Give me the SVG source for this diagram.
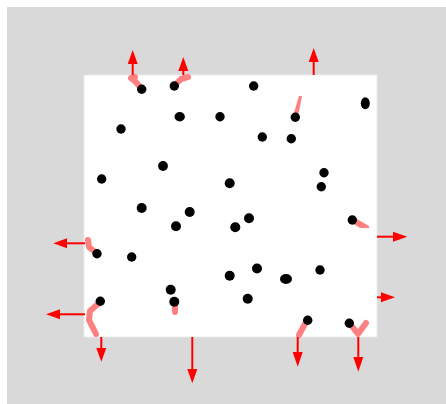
<svg xmlns="http://www.w3.org/2000/svg" width="446" height="404" viewBox="0 0 446 404">
<style>
.dot{fill:#000}
.trail{fill:none;stroke:#ff8080;stroke-width:6;stroke-linecap:round;stroke-linejoin:round}
.trailf{fill:#ff8080}
.shaft{stroke:#f00;stroke-width:2;fill:none}
.head{fill:#f00}
</style>
<rect x="0" y="0" width="446" height="404" fill="#fff"/>
<rect id="bg" x="7" y="7" width="439" height="397" fill="#d9d9d9"/>
<rect id="box" x="84" y="75" width="293" height="262" fill="#fff" stroke="#ececec" stroke-width="1"/>
<g id="trails">
<polyline class="trail" points="140,87 135,81 131,78 135,77"/>
<polyline class="trail" points="176,84 181,79 188,77"/>
<polygon class="trailf" points="293,116 298,117 302,96 299,96"/>
<polyline class="trail" points="88,240 89,247 95,252"/>
<polyline class="trail" points="99,303 90,311 89,320 96,334"/>
<polyline class="trail" points="175,303 175,312"/>
<polyline class="trail" points="306,322 299,335"/>
<polyline class="trail" points="351,325 358,334 366,323"/>
<polygon class="trailf" points="352,223 357,219 369,226 369,228 360,228"/>
</g>
<g id="dots">
<circle class="dot" cx="141.7" cy="89.3" r="4.7"/>
<circle class="dot" cx="174.3" cy="86" r="4.7"/>
<circle class="dot" cx="253.7" cy="86" r="4.7"/>
<ellipse class="dot" cx="365.3" cy="103.3" rx="4.5" ry="6"/>
<ellipse class="dot" cx="179.7" cy="116.7" rx="5.2" ry="4.7"/>
<circle class="dot" cx="220" cy="116.7" r="4.7"/>
<circle class="dot" cx="295.3" cy="117.3" r="4.7"/>
<circle class="dot" cx="121" cy="129" r="4.7"/>
<circle class="dot" cx="262.3" cy="137" r="4.7"/>
<circle class="dot" cx="291.3" cy="138.7" r="4.7"/>
<circle class="dot" cx="163" cy="166" r="4.9"/>
<circle class="dot" cx="101.7" cy="179" r="4.7"/>
<circle class="dot" cx="229.7" cy="183.3" r="5"/>
<circle class="dot" cx="324" cy="172.7" r="4.7"/>
<circle class="dot" cx="321.3" cy="186.7" r="4.7"/>
<circle class="dot" cx="141.7" cy="208" r="5"/>
<circle class="dot" cx="189.7" cy="212" r="5"/>
<circle class="dot" cx="249" cy="218.3" r="5"/>
<circle class="dot" cx="176" cy="226.3" r="5"/>
<circle class="dot" cx="235.3" cy="227.3" r="5"/>
<circle class="dot" cx="352.3" cy="220" r="4.7"/>
<circle class="dot" cx="97" cy="253.7" r="4.7"/>
<circle class="dot" cx="131.7" cy="257" r="4.7"/>
<circle class="dot" cx="257" cy="268.5" r="5"/>
<circle class="dot" cx="320" cy="270" r="4.7"/>
<circle class="dot" cx="229.7" cy="275.7" r="5"/>
<ellipse class="dot" cx="286" cy="279" rx="6" ry="4.9"/>
<circle class="dot" cx="170.7" cy="289.7" r="5"/>
<circle class="dot" cx="247.7" cy="298.7" r="5"/>
<circle class="dot" cx="174.3" cy="301.7" r="5"/>
<circle class="dot" cx="100.3" cy="301.3" r="4.7"/>
<circle class="dot" cx="307.7" cy="320.3" r="4.7"/>
<circle class="dot" cx="349.3" cy="323.3" r="4.7"/>
</g>
<g id="arrows">
<line class="shaft" x1="132.7" y1="75" x2="132.7" y2="63"/><polygon class="head" points="132.7,50 137.7,64 127.7,64"/>
<line class="shaft" x1="183.3" y1="75" x2="183.3" y2="70"/><polygon class="head" points="183.3,57 188.3,71 178.3,71"/>
<line class="shaft" x1="313.7" y1="75" x2="313.7" y2="61"/><polygon class="head" points="313.7,48 318.7,62 308.7,62"/>
<line class="shaft" x1="85" y1="243.3" x2="66" y2="243.3"/><polygon class="head" points="53.3,243.3 67,238.3 67,248.3"/>
<line class="shaft" x1="85" y1="314.3" x2="59" y2="314.3"/><polygon class="head" points="46,314.3 60,309.3 60,319.3"/>
<line class="shaft" x1="101.3" y1="337" x2="101.3" y2="349"/><polygon class="head" points="101.3,361.7 96.3,348 106.3,348"/>
<line class="shaft" x1="192.3" y1="337" x2="192.3" y2="370"/><polygon class="head" points="192.3,383.3 187.3,369 197.3,369"/>
<line class="shaft" x1="297.7" y1="337" x2="297.7" y2="353"/><polygon class="head" points="297.7,366.7 292.7,352 302.7,352"/>
<line class="shaft" x1="358.3" y1="337" x2="358.3" y2="358"/><polygon class="head" points="358.3,371.7 353.3,357 363.3,357"/>
<line class="shaft" x1="377" y1="236.7" x2="394" y2="236.7"/><polygon class="head" points="407.3,236.7 393,231.7 393,241.7"/>
<line class="shaft" x1="377" y1="297.3" x2="382" y2="297.3"/><polygon class="head" points="395,297.3 381,292.3 381,302.3"/>
</g>
</svg>
